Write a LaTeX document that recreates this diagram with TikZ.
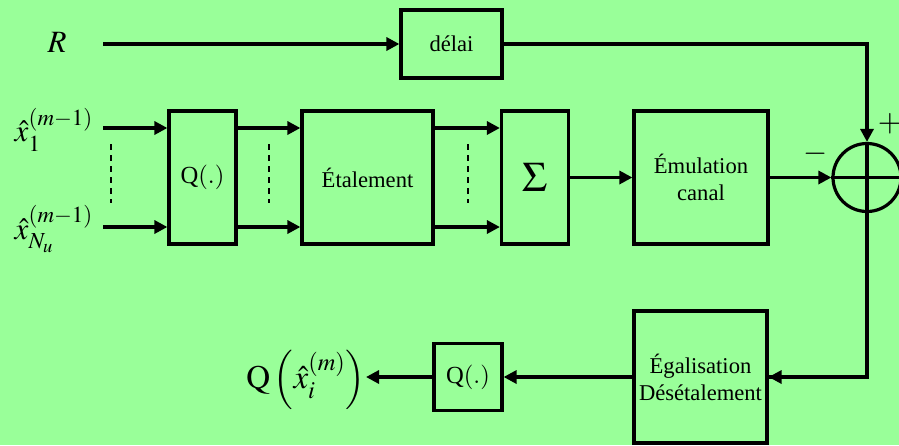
\documentclass[tikz,border=0pt]{standalone}
\usepackage{mathptmx}
\usepackage{fontspec}
\setmainfont{Liberation Serif}
\usetikzlibrary{arrows.meta}
\definecolor{bg}{RGB}{153,255,153}
\begin{document}
\begin{tikzpicture}[x=0.5pt,y=-0.5pt,
  blk/.style={draw, line width=1.6pt, inner sep=0pt, font=\fontsize{11.3}{13.5}\selectfont},
  conn/.style={line width=1.6pt, -{Triangle[length=6.5pt,width=6.5pt]}},
  plain/.style={line width=1.6pt},
  dots/.style={line width=0.8pt, dash pattern=on 3pt off 2.5pt},
  lbl/.style={inner sep=0pt, font=\fontsize{15.5}{18}\selectfont}]
\fill[bg] (0,0) rectangle (899,445);
\useasboundingbox (0,0) rectangle (899,445);
% blocks
\node[blk, minimum width=50.5pt, minimum height=34pt] (delai) at (451.5,44) {délai};
\node[blk, minimum width=33.5pt, minimum height=66.5pt, font=\fontsize{12.3}{14}\selectfont] (q1) at (202.5,177.5) {Q$(.)$};
\node[blk, minimum width=65.5pt, minimum height=66.5pt] (et) at (367.5,177.5) {Étalement};
\node[blk, minimum width=33.5pt, minimum height=66.5pt, font=\fontsize{21}{24}\selectfont] (sig) at (535,177.5) {$\Sigma$};
\node[blk, minimum width=67pt, minimum height=66.5pt, align=center] (em) at (701,177.5) {Émulation\\canal};
\node[blk, minimum width=66.5pt, minimum height=66pt, align=center] (eg) at (700.5,377) {Égalisation\\Désétalement};
\node[blk, minimum width=34pt, minimum height=33.5pt, font=\fontsize{12.3}{14}\selectfont] (q2) at (468,377) {Q$(.)$};
\node[draw, circle, line width=1.6pt, minimum size=34pt, inner sep=0pt] (sum) at (867,177.5) {};
\draw[plain] (sum.north) -- (sum.south);
\draw[plain] (sum.west) -- (sum.east);
% labels
\node[lbl] (R) at (57,42) {$R$};
\node[lbl] (x1) at (54,130) {$\hat{x}_{1}^{(m-1)}$};
\node[lbl] (xn) at (54,229) {$\hat{x}_{N_u}^{(m-1)}$};
\node[lbl, font=\fontsize{16.5}{19}\selectfont] (out) at (306,380) {$\mathrm{Q}\left(\hat{x}_i^{(m)}\right)$};
\node[lbl] (plus) at (890,124) {$+$};
\node[lbl] (minus) at (816,154) {$-$};
% coordinates
\coordinate (rin) at (103,44);
\coordinate (ina) at (103,128);
\coordinate (inb) at (103,227);
% connectors
\draw[conn] (rin) -- (delai.west);
\draw[conn] (delai.east) -| (sum.north);
\draw[conn] (ina) -- (ina -| q1.west);
\draw[conn] (inb) -- (inb -| q1.west);
\draw[conn] (q1.east |- ina) -- (et.west |- ina);
\draw[conn] (q1.east |- inb) -- (et.west |- inb);
\draw[conn] (et.east |- ina) -- (sig.west |- ina);
\draw[conn] (et.east |- inb) -- (sig.west |- inb);
\draw[conn] (sig.east) -- (em.west);
\draw[conn] (em.east) -- (sum.west);
\draw[plain] (sum.south) |- (eg.east);
\draw[conn] (sum.south |- eg.east) -- (eg.east);
\draw[conn] (eg.west) -- (q2.east);
\draw[conn] (q2.west) -- (q2.west -| out.east);
% dashed
\draw[dots] (111,144) -- (111,203);
\draw[dots] (269,144) -- (269,203);
\draw[dots] (468,144) -- (468,203);
\end{tikzpicture}
\end{document}
